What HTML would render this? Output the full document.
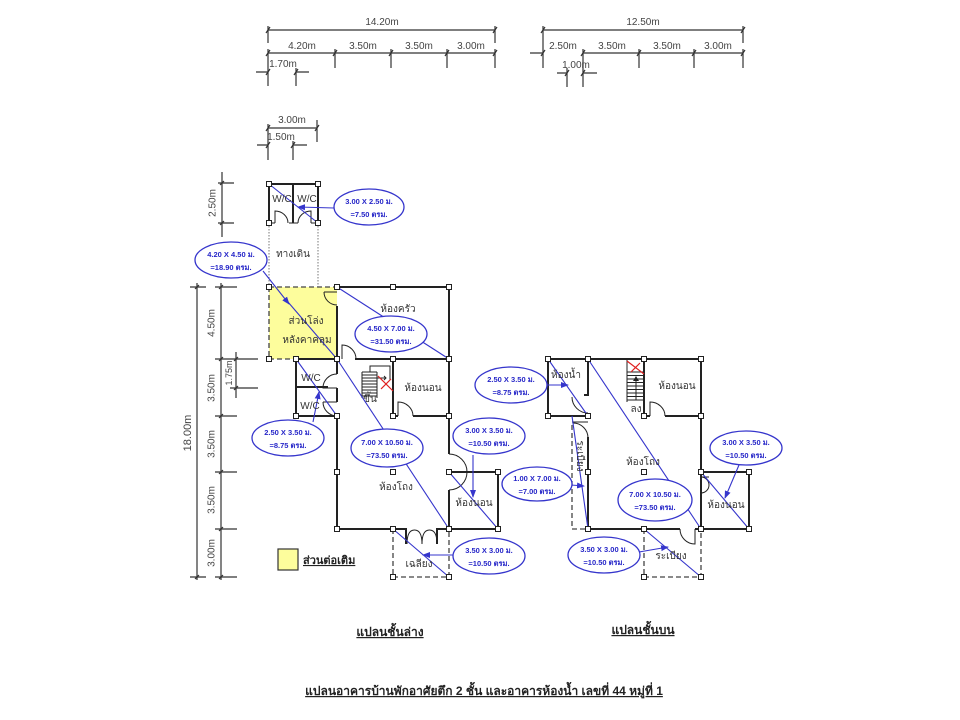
<!DOCTYPE html>
<html><head><meta charset="utf-8">
<style>
html,body{margin:0;padding:0;background:#fff;}
svg{display:block;}
text{font-family:"Liberation Sans","DejaVu Sans","Noto Sans CJK SC",sans-serif;}
.d{stroke:#333;stroke-width:1.2;fill:none}
.dt{font-size:10px;fill:#444;text-anchor:middle}
.w{stroke:#222;stroke-width:2;fill:none}
.t{stroke:#222;stroke-width:1;fill:none}
.ds{stroke:#444;stroke-width:1.3;fill:none;stroke-dasharray:5 3}
.dot{stroke:#777;stroke-width:1;fill:none;stroke-dasharray:1.5 1.5}
.b{stroke:#3535cc;stroke-width:1.1;fill:none}
.e{stroke:#3535cc;stroke-width:1.3;fill:#fff}
.et{font-size:7.5px;font-weight:bold;fill:#2626c8;text-anchor:middle}
.rt{font-size:10px;fill:#333;text-anchor:middle}
.n{fill:#fff;stroke:#222;stroke-width:1}
.r{stroke:#e02020;stroke-width:1.2;fill:none}
</style></head><body>
<svg width="960" height="720" viewBox="0 0 960 720">
<defs>
<marker id="ah" markerWidth="8" markerHeight="8" refX="7" refY="4" orient="auto" markerUnits="userSpaceOnUse"><path d="M0,1 L8,4 L0,7 Z" fill="#3535cc"/></marker>
</defs>
<rect width="960" height="720" fill="#fff"/>

<!-- ===== TOP DIMENSIONS LEFT ===== -->
<g class="d">
<path d="M268,30 H495 M268,26 V43 M495,26 V43"/>
<path d="M268,53 H495 M268,49 V86 M335,49 V68 M391,49 V68 M447,49 V68 M495,49 V68"/>
<path d="M256,72 H268 M296,68 V86 M296,72 H309"/>
<path d="M268,128 H317 M268,124 V160 M317,120 V142"/>
<path d="M257,145 H268 M293,141 V160 M293,145 H307"/>
<!-- right -->
<path d="M543,30 H743 M543,26 V68 M743,26 V43"/>
<path d="M583,53 H743 M530,53 H543 M583,49 V87 M639,49 V68 M694,49 V68 M743,49 V68"/>
<path d="M557,73 H567 M567,68 V87 M583,73 H597"/>
<!-- slashes -->
<path d="M266,33 L270,27 M493,33 L497,27 M266,56 L270,50 M333,56 L337,50 M389,56 L393,50 M445,56 L449,50 M493,56 L497,50 M266,75 L270,69 M294,75 L298,69 M266,131 L270,125 M315,131 L319,125 M266,148 L270,142 M291,148 L295,142"/>
<path d="M541,33 L545,27 M741,33 L745,27 M541,56 L545,50 M581,56 L585,50 M637,56 L641,50 M692,56 L696,50 M741,56 L745,50 M565,76 L569,70 M581,76 L585,70"/>
</g>
<g class="dt">
<text x="382" y="25">14.20m</text>
<text x="302" y="49">4.20m</text>
<text x="363" y="49">3.50m</text>
<text x="419" y="49">3.50m</text>
<text x="471" y="49">3.00m</text>
<text x="283" y="67">1.70m</text>
<text x="292" y="123">3.00m</text>
<text x="281" y="140">1.50m</text>
<text x="643" y="25">12.50m</text>
<text x="563" y="49">2.50m</text>
<text x="612" y="49">3.50m</text>
<text x="667" y="49">3.50m</text>
<text x="718" y="49">3.00m</text>
<text x="576" y="68">1.00m</text>
</g>

<!-- ===== LEFT VERTICAL DIMENSIONS ===== -->
<g class="d">
<path d="M222,172 V237 M218,183 H234 M218,223 H234 M220,185 L224,181 M220,225 L224,221"/>
<path d="M197,283 V580 M190,287 H206 M190,577 H206 M195,289 L199,285 M195,579 L199,575"/>
<path d="M221,283 V580 M215,287 H237 M215,359 H258 M215,416 H237 M215,472 H237 M215,529 H237 M215,577 H237"/>
<path d="M219,289 L223,285 M219,361 L223,357 M219,418 L223,414 M219,474 L223,470 M219,531 L223,527 M219,579 L223,575"/>
<path d="M236,352 V398 M230,388 H258 M234,361 L238,357 M234,390 L238,386"/>
</g>
<g class="dt">
<text transform="translate(212,203) rotate(-90)" dy="3.5">2.50m</text>
<text transform="translate(187,433) rotate(-90)" dy="4" style="font-size:11px">18.00m</text>
<text transform="translate(211,323) rotate(-90)" dy="3.5">4.50m</text>
<text transform="translate(211,388) rotate(-90)" dy="3.5">3.50m</text>
<text transform="translate(211,444) rotate(-90)" dy="3.5">3.50m</text>
<text transform="translate(211,500) rotate(-90)" dy="3.5">3.50m</text>
<text transform="translate(211,553) rotate(-90)" dy="3.5">3.00m</text>
<text transform="translate(229,373) rotate(-90)" dy="3" style="font-size:9px">1.75m</text>
</g>

<!-- ===== LEFT PLAN ===== -->
<rect x="269" y="287" width="68" height="72" fill="#fdfd9c"/>
<path class="ds" d="M269,287 H337 M269,287 V359 M269,359 H296"/>
<path class="dot" d="M269,223 V287 M318,223 V287"/>
<!-- top WC -->
<path class="w" d="M269,184 H318 V223 M269,184 V223 M293,184 V223"/>
<path class="t" d="M269,223 H275 M275,223 V211 A13,12 0 0 1 288,223 M289,223 H293 M293,223 H298 M298,223 A13,12 0 0 1 311,211 V223 M311,223 H318"/>
<!-- walls -->
<path class="w" d="M337,287 H449 V454 M337,306 V374 M337,388 V402 M337,416 V529 H406 V544 M437,544 V529 H498 V472 H449 M449,490 V529"/>
<path class="w" d="M355,359 H449 M296,359 H337 M296,359 V416 H337 M296,387 H328 M393,359 V416 H398 M413,416 H449"/>
<path class="t" d="M324,292 H337 M324,292 A13,13 0 0 0 337,305"/>
<path class="t" d="M342,359 V345 A14,14 0 0 1 356,359"/>
<path class="t" d="M337,374 A14,14 0 0 0 323,388 H337 M323,402 H337 M323,402 A14,14 0 0 0 337,416"/>
<path class="t" d="M398,416 V402 A15,14 0 0 1 413,416"/>
<path class="t" d="M449,454 A18,18 0 0 1 449,490 M449,472 H467"/>
<path class="t" d="M407,544 Q407,530 414.5,530 Q422,530 422,544 M422,544 Q422,530 429.5,530 Q437,530 437,544"/>
<!-- stairs left -->
<path class="t" d="M362,372 V398 M377,372 V398 M362,372 H377 M362,375 H377 M362,378 H377 M362,381 H377 M362,384 H377 M362,387 H377 M362,390 H377 M362,393 H377 M362,396 H377 M370,372 V366 H390 V380 M377,378 H386 M384,376 L386,378 L384,380"/>
<path class="r" d="M378,376 L393,391 M381,389 L391,379"/>
<!-- porch -->
<path class="ds" d="M393,529 V577 H449 V529"/>

<!-- ===== RIGHT PLAN ===== -->
<path class="w" d="M548,359 H701 V529 M548,359 V416 H588 M588,359 V395 H584 M588,437 V529 H680 M695,529 H749 V472 H701 M644,359 V416 H650 M665,416 H701"/>
<path class="t" d="M572,397 A16,16 0 0 0 588,413 M588,413 V416 M572,422 H588 M573,423 A15,15 0 0 1 588,438"/>
<path class="t" d="M650,416 V402 A15,14 0 0 1 665,416"/>
<path class="t" d="M680,529 A15,15 0 0 0 695,544 V529"/>
<path class="t" d="M701,477 A8,8 0 0 1 701,493 M701,477 H709"/>
<!-- stairs right -->
<path class="t" d="M627,360 V402 M627,372 H644 M627,375.5 H644 M627,379 H644 M627,382.5 H644 M627,386 H644 M627,389.5 H644 M627,393 H644 M627,396.5 H644 M627,400 H644 M636,400 V378"/>
<path d="M633,381 L636,376 L639,381 Z" fill="#222"/>
<path class="r" d="M627,361 L644,374 M631,372 L640,363"/>
<path class="ds" d="M572,425 V529 H588"/>
<path class="ds" d="M644,529 V577 H701 V529"/>

<!-- ===== BLUE DIAGONALS ===== -->
<g class="b">
<path d="M269,184 L318,223"/>
<path d="M288,302 L337,359"/>
<path d="M337,287 L449,359"/>
<path d="M296,359 L337,416"/>
<path d="M337,359 L449,529"/>
<path d="M449,472 L498,529"/>
<path d="M393,529 L449,577"/>
<path d="M548,359 L588,416"/>
<path d="M572,416 L588,529"/>
<path d="M588,359 L701,529"/>
<path d="M701,472 L749,529"/>
<path d="M644,529 L701,577"/>
</g>
<g class="b" marker-end="url(#ah)">
<path d="M334,208 L298,207"/>
<path d="M263,271 L289,304"/>
<path d="M313,422 L319,392"/>
<path d="M473,455 L473,497"/>
<path d="M453,555 L423,555"/>
<path d="M546,385 L568,385"/>
<path d="M571,485 L584,486"/>
<path d="M739,465 L725,498"/>
<path d="M639,552 L668,547"/>
</g>

<!-- ===== ELLIPSES ===== -->
<g>
<ellipse class="e" cx="369" cy="207" rx="35" ry="18"/>
<ellipse class="e" cx="231" cy="260" rx="36" ry="18"/>
<ellipse class="e" cx="391" cy="334" rx="36" ry="18"/>
<ellipse class="e" cx="288" cy="438" rx="36" ry="18"/>
<ellipse class="e" cx="387" cy="448" rx="36" ry="19"/>
<ellipse class="e" cx="489" cy="436" rx="36" ry="18"/>
<ellipse class="e" cx="489" cy="556" rx="36" ry="18"/>
<ellipse class="e" cx="511" cy="385" rx="36" ry="18"/>
<ellipse class="e" cx="537" cy="484" rx="35" ry="17"/>
<ellipse class="e" cx="655" cy="500" rx="37" ry="21"/>
<ellipse class="e" cx="746" cy="448" rx="36" ry="17"/>
<ellipse class="e" cx="604" cy="555" rx="36" ry="18"/>
</g>
<g class="et">
<text x="369" y="204">3.00 X 2.50 ม.</text><text x="369" y="217">=7.50 ตรม.</text>
<text x="231" y="257">4.20 X 4.50 ม.</text><text x="231" y="270">=18.90 ตรม.</text>
<text x="391" y="331">4.50 X 7.00 ม.</text><text x="391" y="344">=31.50 ตรม.</text>
<text x="288" y="435">2.50 X 3.50 ม.</text><text x="288" y="448">=8.75 ตรม.</text>
<text x="387" y="445">7.00 X 10.50 ม.</text><text x="387" y="458">=73.50 ตรม.</text>
<text x="489" y="433">3.00 X 3.50 ม.</text><text x="489" y="446">=10.50 ตรม.</text>
<text x="489" y="553">3.50 X 3.00 ม.</text><text x="489" y="566">=10.50 ตรม.</text>
<text x="511" y="382">2.50 X 3.50 ม.</text><text x="511" y="395">=8.75 ตรม.</text>
<text x="537" y="481">1.00 X 7.00 ม.</text><text x="537" y="494">=7.00 ตรม.</text>
<text x="655" y="497">7.00 X 10.50 ม.</text><text x="655" y="510">=73.50 ตรม.</text>
<text x="746" y="445">3.00 X 3.50 ม.</text><text x="746" y="458">=10.50 ตรม.</text>
<text x="604" y="552">3.50 X 3.00 ม.</text><text x="604" y="565">=10.50 ตรม.</text>
</g>

<!-- ===== ROOM LABELS ===== -->
<g class="rt">
<text x="282" y="202">W/C</text>
<text x="307" y="202">W/C</text>
<text x="293" y="257">ทางเดิน</text>
<text x="306" y="324">ส่วนโล่ง</text>
<text x="307" y="343">หลังคาคลุม</text>
<text x="398" y="312">ห้องครัว</text>
<text x="311" y="381">W/C</text>
<text x="310" y="409">W/C</text>
<text x="423" y="391">ห้องนอน</text>
<text x="370" y="402">ขึ้น</text>
<text x="396" y="490">ห้องโถง</text>
<text x="474" y="506">ห้องนอน</text>
<text x="419" y="567">เฉลียง</text>
<text x="566" y="378">ห้องน้ำ</text>
<text x="677" y="389">ห้องนอน</text>
<text x="636" y="412">ลง</text>
<text x="643" y="465">ห้องโถง</text>
<text x="726" y="508">ห้องนอน</text>
<text x="671" y="559">ระเบียง</text>
<text transform="translate(580,456) rotate(90)" dy="3">ระเบียง</text>
</g>

<!-- ===== NODES ===== -->
<g class="n">
<rect x="266.5" y="181.5" width="5" height="5"/><rect x="315.5" y="181.5" width="5" height="5"/>
<rect x="266.5" y="220.5" width="5" height="5"/><rect x="315.5" y="220.5" width="5" height="5"/>
<rect x="266.5" y="284.5" width="5" height="5"/><rect x="334.5" y="284.5" width="5" height="5"/>
<rect x="390.5" y="284.5" width="5" height="5"/><rect x="446.5" y="284.5" width="5" height="5"/>
<rect x="266.5" y="356.5" width="5" height="5"/><rect x="293.5" y="356.5" width="5" height="5"/>
<rect x="334.5" y="356.5" width="5" height="5"/><rect x="390.5" y="356.5" width="5" height="5"/>
<rect x="446.5" y="356.5" width="5" height="5"/>
<rect x="293.5" y="413.5" width="5" height="5"/><rect x="334.5" y="413.5" width="5" height="5"/>
<rect x="390.5" y="413.5" width="5" height="5"/><rect x="446.5" y="413.5" width="5" height="5"/>
<rect x="334.5" y="469.5" width="5" height="5"/><rect x="390.5" y="469.5" width="5" height="5"/>
<rect x="446.5" y="469.5" width="5" height="5"/><rect x="495.5" y="469.5" width="5" height="5"/>
<rect x="334.5" y="526.5" width="5" height="5"/><rect x="390.5" y="526.5" width="5" height="5"/>
<rect x="446.5" y="526.5" width="5" height="5"/><rect x="495.5" y="526.5" width="5" height="5"/>
<rect x="390.5" y="574.5" width="5" height="5"/><rect x="446.5" y="574.5" width="5" height="5"/>

<rect x="545.5" y="356.5" width="5" height="5"/><rect x="585.5" y="356.5" width="5" height="5"/>
<rect x="641.5" y="356.5" width="5" height="5"/><rect x="698.5" y="356.5" width="5" height="5"/>
<rect x="545.5" y="413.5" width="5" height="5"/><rect x="585.5" y="413.5" width="5" height="5"/>
<rect x="641.5" y="413.5" width="5" height="5"/><rect x="698.5" y="413.5" width="5" height="5"/>
<rect x="585.5" y="469.5" width="5" height="5"/><rect x="641.5" y="469.5" width="5" height="5"/>
<rect x="698.5" y="469.5" width="5" height="5"/><rect x="746.5" y="469.5" width="5" height="5"/>
<rect x="585.5" y="526.5" width="5" height="5"/><rect x="641.5" y="526.5" width="5" height="5"/>
<rect x="698.5" y="526.5" width="5" height="5"/><rect x="746.5" y="526.5" width="5" height="5"/>
<rect x="641.5" y="574.5" width="5" height="5"/><rect x="698.5" y="574.5" width="5" height="5"/>
</g>

<!-- ===== LEGEND & TITLES ===== -->
<rect x="278" y="549" width="20" height="21" fill="#fdfd9c" stroke="#333" stroke-width="1.2"/>
<text x="303" y="564" style="font-size:11px;font-weight:bold;fill:#222;text-decoration:underline">ส่วนต่อเติม</text>
<text x="390" y="636" style="font-size:12px;font-weight:bold;fill:#222;text-anchor:middle;text-decoration:underline">แปลนชั้นล่าง</text>
<text x="643" y="634" style="font-size:12px;font-weight:bold;fill:#222;text-anchor:middle;text-decoration:underline">แปลนชั้นบน</text>
<text x="484" y="695" style="font-size:12px;font-weight:bold;fill:#222;text-anchor:middle;text-decoration:underline">แปลนอาคารบ้านพักอาศัยตึก 2 ชั้น และอาคารห้องน้ำ เลขที่ 44 หมู่ที่ 1</text>
</svg>
</body></html>
